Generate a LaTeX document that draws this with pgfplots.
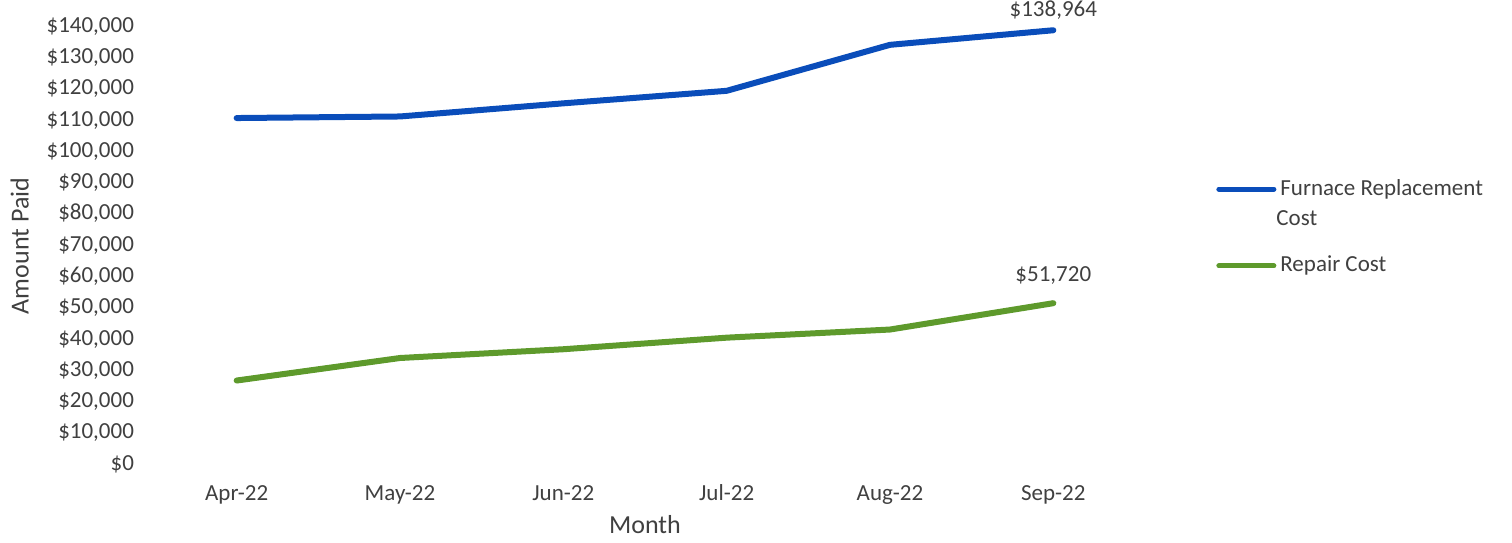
\documentclass[border=0pt]{standalone}
\usepackage{pgfplots}
\pgfplotsset{compat=1.18}
\usepackage{fontspec}
\setmainfont{Carlito}
\definecolor{textgray}{HTML}{404040}
\definecolor{furnace}{HTML}{0A4DBA}
\definecolor{repair}{HTML}{5E9A2C}
\begin{document}
\begin{tikzpicture}
\begin{axis}[
  at={(77.5pt,38.5pt)}, anchor=south west,
  scale only axis, width=490pt, height=219pt,
  xmin=-0.5, xmax=5.5, ymin=0, ymax=140000,
  clip=false,
  axis line style={draw=none},
  major tick length=0pt,
  xtick={0,1,2,3,4,5},
  xticklabels={Apr-22,May-22,Jun-22,Jul-22,Aug-22,Sep-22},
  ytick={0,10000,20000,30000,40000,50000,60000,70000,80000,90000,100000,110000,120000,130000,140000},
  yticklabels={\$0,{\$10,000},{\$20,000},{\$30,000},{\$40,000},{\$50,000},{\$60,000},{\$70,000},{\$80,000},{\$90,000},{\$100,000},{\$110,000},{\$120,000},{\$130,000},{\$140,000}},
  scaled y ticks=false,
  typeset ticklabels with strut,
  tick label style={font=\fontsize{11.5}{13}\selectfont, text=textgray},
  xticklabel style={yshift=-5pt},
  yticklabel style={xshift=-7pt},
  xlabel={Month}, ylabel={Amount Paid},
  label style={font=\fontsize{13}{15}\selectfont, text=textgray},
  xlabel style={at={(axis description cs:0.5,-0.135)}, anchor=center},
  ylabel style={at={(axis description cs:-0.138,0.5)}, anchor=center},
  legend style={at={(axis description cs:1.0765,0.672)}, anchor=north west,
    draw=none, fill=none, font=\fontsize{11.5}{15}\selectfont, text=textgray,
    cells={anchor=base west}, row sep=25pt},
  legend image code/.code={\draw[#1, line width=2.5pt] (0pt,0.3em) -- (27.5pt,0.3em);},
]
\addplot[furnace, line width=3pt, line cap=round, line join=round] coordinates {
  (0,110900) (1,111400) (2,115600) (3,119600) (4,134300) (5,138964)};
\addlegendentry{\vtop{\hbox{Furnace Replacement}\hbox{\kern-2pt Cost}}}
\addplot[repair, line width=3pt, line cap=round, line join=round] coordinates {
  (0,27000) (1,34200) (2,37000) (3,40700) (4,43300) (5,51720)};
\addlegendentry{Repair Cost}
\node[above=4pt, inner sep=1pt, font=\fontsize{11.5}{13}\selectfont, text=textgray] at (axis cs:5,138964) {\$138,964};
\node[above=8pt, inner sep=1pt, font=\fontsize{11.5}{13}\selectfont, text=textgray] at (axis cs:5,51720) {\$51,720};
\end{axis}
\pgfresetboundingbox
\path[use as bounding box] (0,0) rectangle (756pt,271pt);
\end{tikzpicture}
\end{document}
